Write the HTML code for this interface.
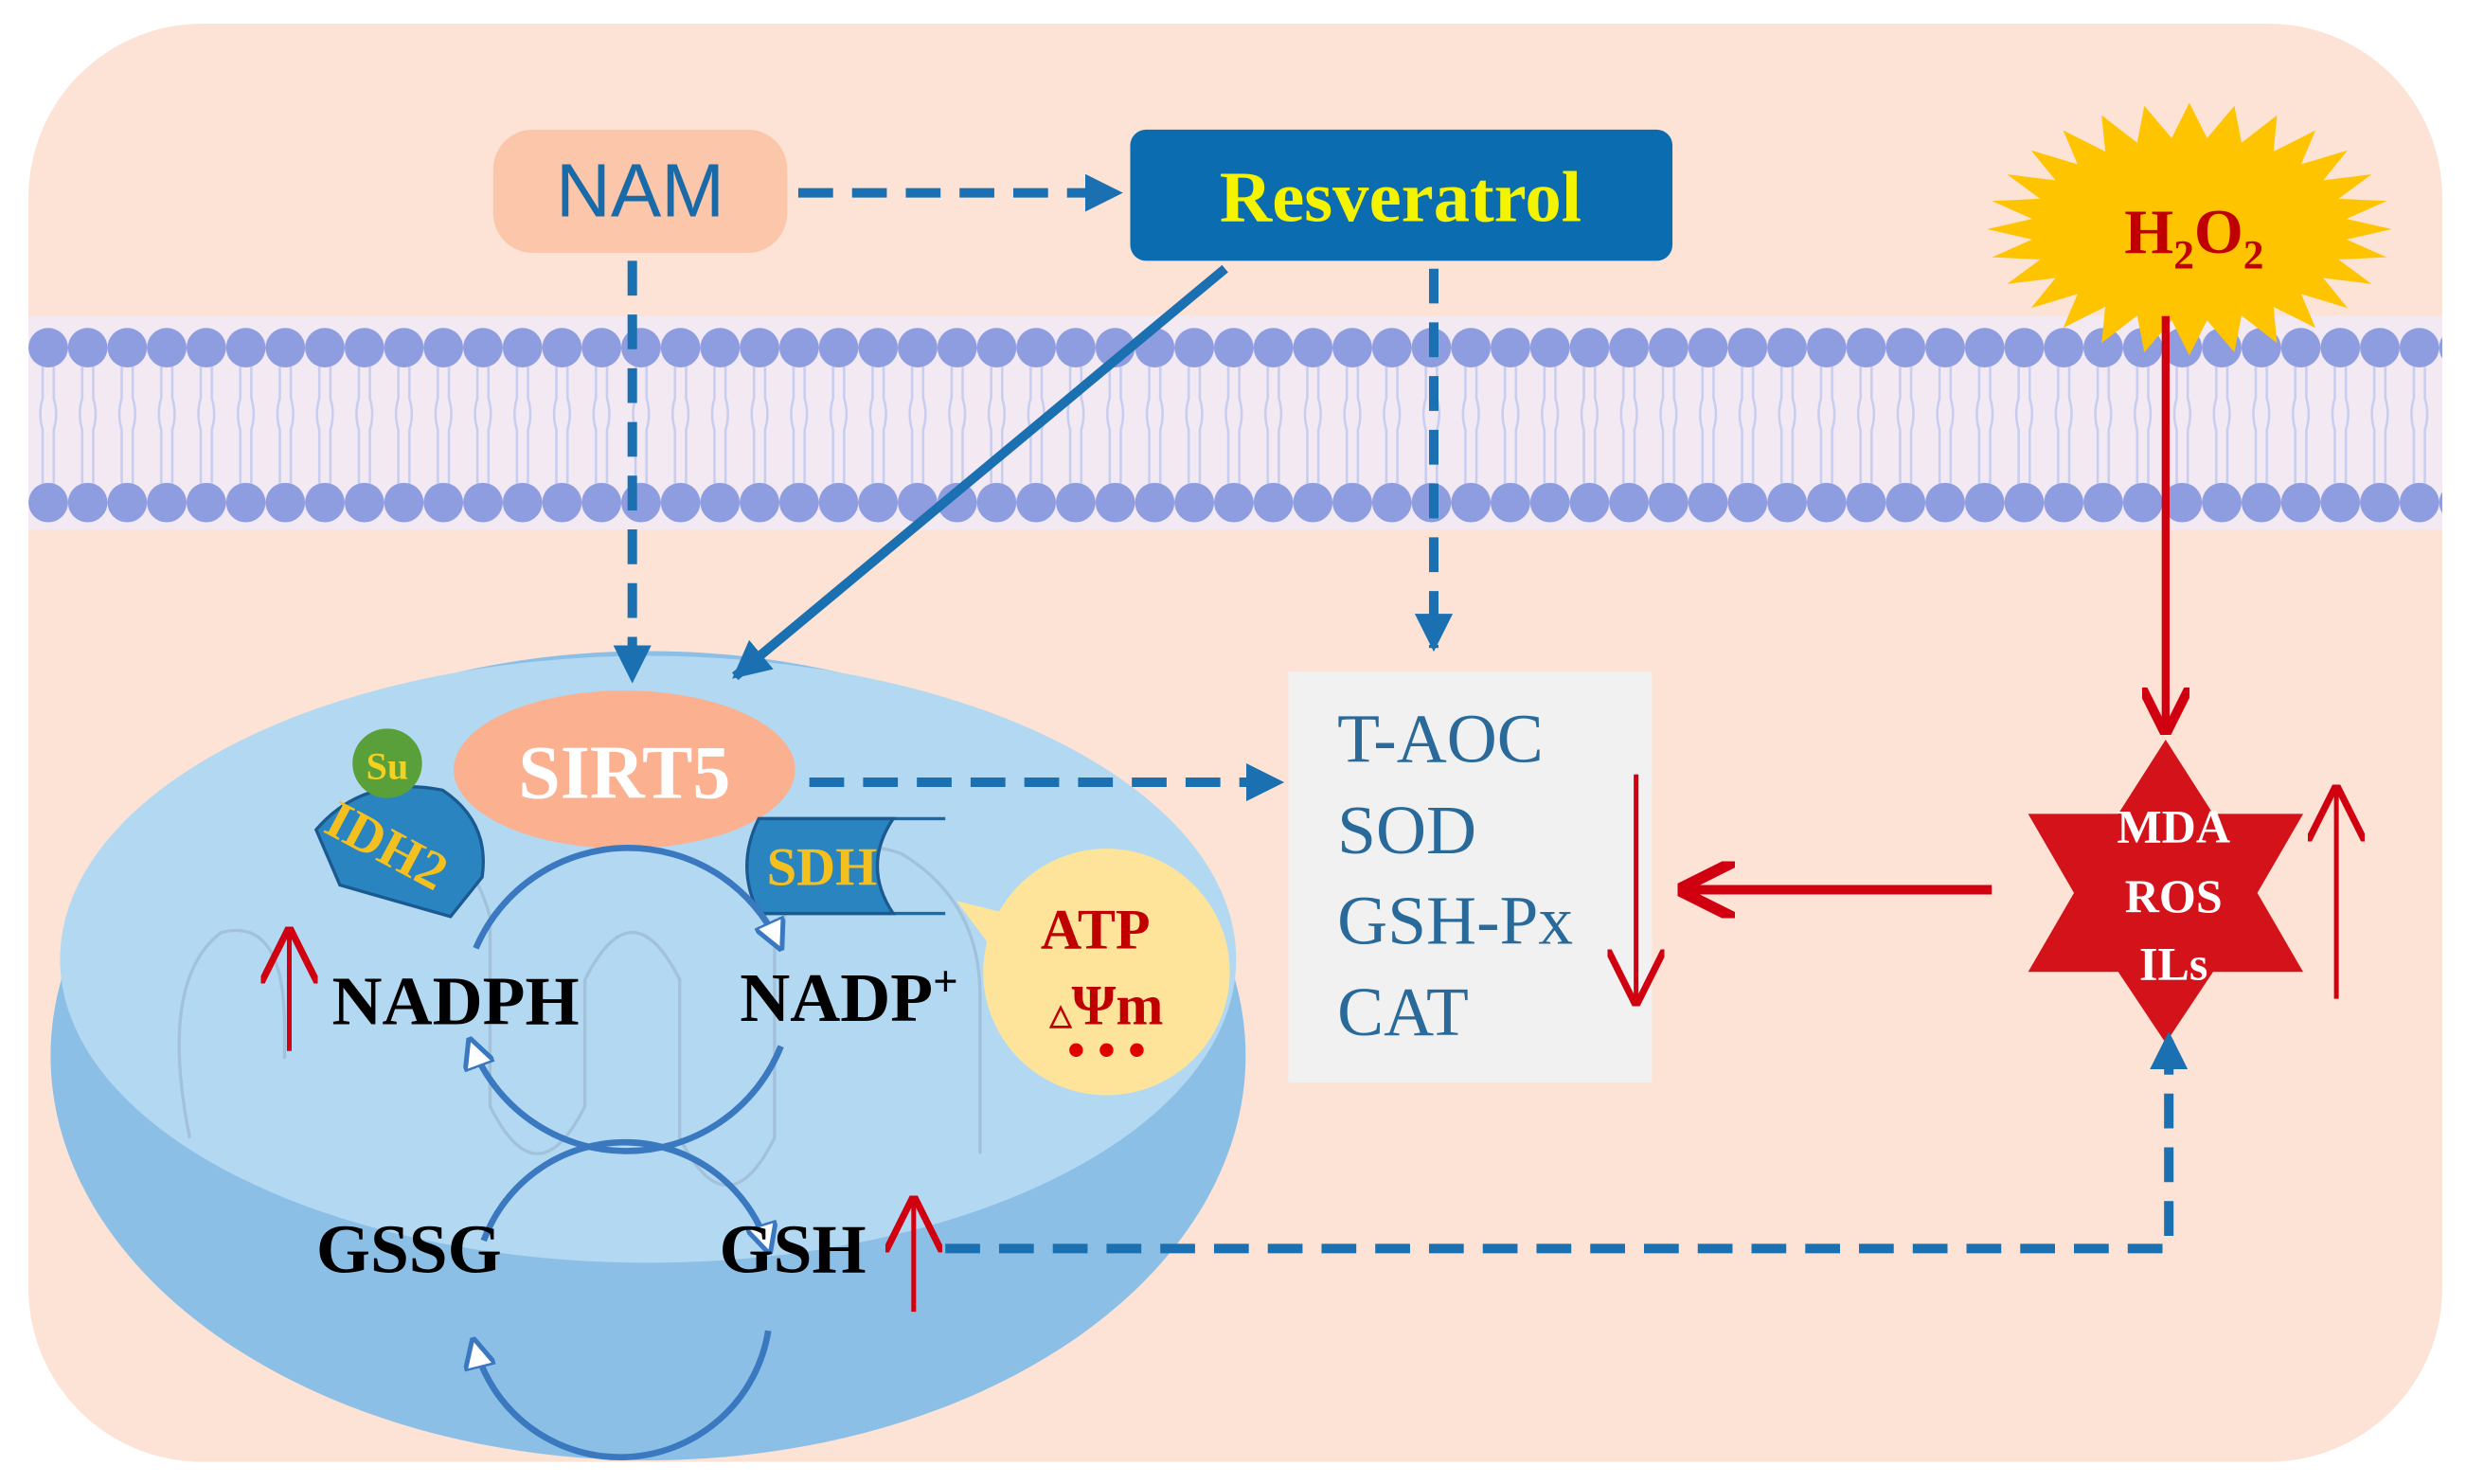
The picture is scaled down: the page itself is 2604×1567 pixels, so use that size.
<!DOCTYPE html>
<html><head><meta charset="utf-8"><style>html,body{margin:0;padding:0;background:#fff}svg{display:block}</style></head>
<body>
<svg width="2604" height="1567" viewBox="0 0 1560 939" preserveAspectRatio="none" xmlns="http://www.w3.org/2000/svg">
<defs>
<pattern id="mem" x="18" y="0" width="25" height="939" patternUnits="userSpaceOnUse">
<rect x="0" y="200" width="25" height="135" fill="#f3e9f3"/>
<path d="M9 232 v20 q-3 10 0 20 v34 M16 232 v20 q3 10 0 20 v34" stroke="#c6cdf0" stroke-width="1.5" fill="none"/>
<circle cx="12.5" cy="220" r="12.5" fill="#8e9ce0"/>
<circle cx="12.5" cy="318" r="12.5" fill="#8e9ce0"/>
</pattern>
<marker id="ab" viewBox="0 0 10 10" refX="9" refY="5" markerWidth="4" markerHeight="4" orient="auto"><path d="M0 0L10 5L0 10z" fill="#1a70b0"/></marker>
<marker id="ar" viewBox="0 0 10 10" refX="9" refY="5" markerWidth="6" markerHeight="6" orient="auto"><path d="M0 0L10 5L0 10" fill="none" stroke="#d00010" stroke-width="2"/></marker>
<marker id="ar2" viewBox="0 0 10 10" refX="9" refY="5" markerWidth="12" markerHeight="12" orient="auto"><path d="M0 0L10 5L0 10" fill="none" stroke="#d00010" stroke-width="1.2"/></marker>
<marker id="aw" viewBox="0 0 10 10" refX="8" refY="5" markerWidth="5" markerHeight="5" orient="auto"><path d="M0 0L10 5L0 10z" fill="#fff" stroke="#3a78c0" stroke-width="1.5"/></marker>
</defs>
<rect x="18" y="15" width="1527" height="910" rx="110" fill="#fce3d6"/>
<rect x="18" y="195" width="1527" height="145" fill="url(#mem)"/>
<rect x="312" y="82" width="186" height="78" rx="25" fill="#fbc6aa"/>
<text x="405" y="137" font-family="Liberation Sans,sans-serif" font-size="48" fill="#1a6aa8" text-anchor="middle">NAM</text>
<rect x="715" y="82" width="343" height="83" rx="10" fill="#0b6db0"/>
<text x="886" y="140" font-family="Liberation Serif,serif" font-weight="bold" font-size="46" fill="#f4f400" text-anchor="middle">Resveratrol</text>
<polygon id="burst" fill="#ffc400" points=""/>
<text x="1388" y="160" font-family="Liberation Serif,serif" font-weight="bold" font-size="40" fill="#c00000" text-anchor="middle">H<tspan font-size="26" dy="10">2</tspan><tspan dy="-10">O</tspan><tspan font-size="26" dy="10">2</tspan></text>
<ellipse cx="410" cy="668" rx="378" ry="256" fill="#8cbfe6"/>
<ellipse cx="410" cy="607" rx="372" ry="192" fill="#b3d8f2"/>
<g fill="none" stroke="#9bb8d2" stroke-width="2" opacity="0.7">
<path d="M120 720 q-20 -100 20 -130 q40 -10 40 60 v20"/>
<path d="M230 540 q60 -30 80 40 v120 q30 60 60 0 v-80 q30 -60 60 0 v100 q30 60 60 0 v-120 q20 -80 80 -60 q50 30 50 90 v100"/>
</g>
<ellipse cx="395" cy="487" rx="108" ry="50" fill="#fbb08f"/>
<text x="395" y="505" font-family="Liberation Serif,serif" font-weight="bold" font-size="48" fill="#fff" text-anchor="middle">SIRT5</text>
<path d="M200 525 q30 -35 80 -25 q30 20 25 55 l-20 25 l-70 -20 z" fill="#2a84c0" stroke="#1a5a90" stroke-width="2"/>
<text x="200" y="550" transform="rotate(28 250 545)" font-family="Liberation Serif,serif" font-weight="bold" font-size="34" fill="#f4c020">IDH2</text>
<circle cx="245" cy="483" r="22" fill="#5aa03a"/>
<text x="245" y="493" font-family="Liberation Serif,serif" font-weight="bold" font-size="24" fill="#f4d020" text-anchor="middle">Su</text>
<path d="M480 518 h118 M480 578 h118" stroke="#1a6aa8" stroke-width="2"/>
<path d="M480 518 h85 q-20 30 0 60 h-85 q-15 -30 0 -60z" fill="#2a84c0" stroke="#1a5a90" stroke-width="2"/>
<text x="485" y="560" font-family="Liberation Serif,serif" font-weight="bold" font-size="34" fill="#f4c020">SDH</text>
<circle cx="700" cy="615" r="78" fill="#fde49a"/>
<path d="M605 570 l40 10 l-10 30z" fill="#fde49a"/>
<text x="693" y="600" font-family="Liberation Serif,serif" font-weight="bold" font-size="36" fill="#c00000" text-anchor="middle">ATP</text>
<text x="700" y="648" font-family="Liberation Serif,serif" font-weight="bold" font-size="36" fill="#c00000" text-anchor="middle"><tspan font-size="18">△</tspan>Ψm</text>
<text x="700" y="675" font-family="Liberation Serif,serif" font-weight="bold" font-size="32" fill="#e00000" text-anchor="middle">• • •</text>
<g fill="none" stroke="#3a78c0" stroke-width="4">
<path d="M301 600 A105 105 0 0 1 493 598" marker-end="url(#aw)"/>
<path d="M494 662 A105 105 0 0 1 298 660" marker-end="url(#aw)"/>
<path d="M306 785 A95 95 0 0 1 486 790" marker-end="url(#aw)"/>
<path d="M486 842 A95 95 0 0 1 300 850" marker-end="url(#aw)"/>
</g>
<g font-family="Liberation Serif,serif" font-weight="bold" font-size="44" fill="#000">
<text x="210" y="648">NADPH</text><text x="468" y="646">NADP<tspan font-size="28" dy="-16">+</tspan></text>
<text x="200" y="805">GSSG</text><text x="455" y="805">GSH</text>
</g>
<path d="M183 665 V590" stroke="#d00010" stroke-width="3" marker-end="url(#ar2)"/>
<path d="M578 830 V760" stroke="#d00010" stroke-width="3" marker-end="url(#ar2)"/>
<rect x="815" y="425" width="230" height="260" fill="#f1f1f1"/>
<g font-family="Liberation Serif,serif" font-size="44" fill="#2a6a9a">
<text x="846" y="482">T-AOC</text><text x="846" y="540">SOD</text><text x="846" y="597">GSH-Px</text><text x="846" y="655">CAT</text>
</g>
<path d="M1035 490 V633" stroke="#d00010" stroke-width="3" marker-end="url(#ar2)"/>
<polygon fill="#d4121a" points="1370,468 1400,515 1457,515 1428,565 1457,615 1400,615 1370,660 1340,615 1283,615 1312,565 1283,515 1340,515"/>
<g font-family="Liberation Serif,serif" font-weight="bold" font-size="30" fill="#fff" text-anchor="middle">
<text x="1375" y="533">MDA</text><text x="1375" y="577">ROS</text><text x="1375" y="620">ILs</text></g>
<path d="M1478 632 V500" stroke="#d00010" stroke-width="3" marker-end="url(#ar2)"/>
<g stroke="#1a70b0" stroke-width="6" fill="none" stroke-dasharray="22 12">
<path d="M505 122 H708" marker-end="url(#ab)"/>
<path d="M400 165 V430" marker-end="url(#ab)"/>
<path d="M907 170 V410" marker-end="url(#ab)"/>
<path d="M512 495 H810" marker-end="url(#ab)"/>
<path d="M598 790 H1372 V655" marker-end="url(#ab)"/>
</g>
<path d="M775 170 L465 428" stroke="#1a70b0" stroke-width="6" marker-end="url(#ab)"/>
<path d="M1370 200 V462" stroke="#d00010" stroke-width="5" marker-end="url(#ar)"/>
<path d="M1260 563 H1065" stroke="#d00010" stroke-width="6" marker-end="url(#ar)"/>
<script>
var p=[],n=28;for(var i=0;i<2*n;i++){var a=Math.PI*i/n,o=i%2?0:1;var rx=o?128:100,ry=o?80:58;p.push((1385+rx*Math.cos(a)).toFixed(1)+','+(145+ry*Math.sin(a)).toFixed(1));}
document.getElementById('burst').setAttribute('points',p.join(' '));
</script>
</svg>
</body></html>
